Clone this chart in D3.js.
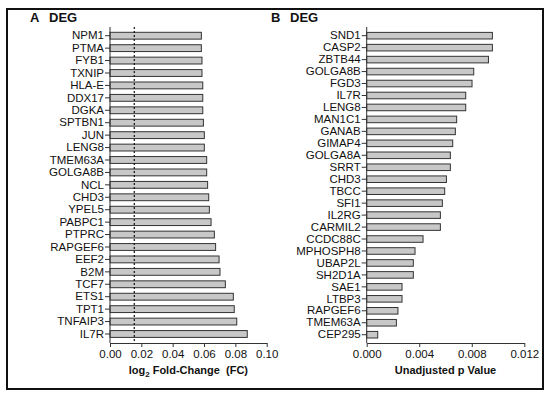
<!DOCTYPE html>
<html lang="en">
<head>
  <meta charset="utf-8">
  <title>DEG bar charts</title>
  <script src="https://d3js.org/d3.v7.min.js"></script>
  <style>
    body { margin: 0; background: #fff; }
    svg { font-family: "Liberation Sans", Arial, sans-serif; }
    .bar { fill: #c8c8c8; stroke: #333; stroke-width: 1px; }
    .axis text { font-size: 11.5px; fill: #111; }
    .axis line, .axis path { stroke: #333; }
    .title { font-size: 11px; font-weight: bold; fill: #111; }
    .panel { font-size: 13px; font-weight: bold; fill: #111; }
  </style>
</head>
<body>
  <div id="chart"></div>
  <script>
    // panel A: log2 fold change
    var genesA = ["NPM1","PTMA","FYB1","TXNIP","HLA-E","DDX17","DGKA","SPTBN1","JUN","LENG8",
                  "TMEM63A","GOLGA8B","NCL","CHD3","YPEL5","PABPC1","PTPRC","RAPGEF6","EEF2","B2M",
                  "TCF7","ETS1","TPT1","TNFAIP3","IL7R"];
    var fcA = [0.0583,0.0583,0.0587,0.0587,0.0592,0.0592,0.0592,0.0596,0.0602,0.0602,
               0.0617,0.0617,0.0623,0.0630,0.0634,0.0645,0.0666,0.0674,0.0696,0.0702,
               0.0736,0.0787,0.0793,0.0809,0.0876];
    var ticksA = [0, 0.02, 0.04, 0.06, 0.08, 0.10];
    var cutoffA = 0.0155;

    // panel B: unadjusted p value
    var genesB = ["SND1","CASP2","ZBTB44","GOLGA8B","FGD3","IL7R","LENG8","MAN1C1","GANAB","GIMAP4",
                  "GOLGA8A","SRRT","CHD3","TBCC","SFI1","IL2RG","CARMIL2","CCDC88C","MPHOSPH8","UBAP2L",
                  "SH2D1A","SAE1","LTBP3","RAPGEF6","TMEM63A","CEP295"];
    var pB = [0.00957,0.00957,0.00927,0.00815,0.00802,0.00754,0.00754,0.00685,0.00675,0.00655,
              0.00637,0.00637,0.00607,0.00594,0.00576,0.00561,0.00561,0.00429,0.00368,0.00355,
              0.00355,0.00269,0.00269,0.00238,0.00226,0.00084];
    var ticksB = [0, 0.004, 0.008, 0.012];

    var width = 550, height = 395;

    var svg = d3.select("#chart").append("svg")
      .attr("width", width)
      .attr("height", height);

    // outer frame
    svg.append("rect")
      .attr("x", 7).attr("y", 9)
      .attr("width", 536).attr("height", 380)
      .attr("fill", "none")
      .attr("stroke", "#111")
      .attr("stroke-width", 2);

    function panel(opts) {
      var x = d3.scaleLinear().domain(opts.domain).range(opts.xr);
      var y = d3.scaleBand().domain(opts.genes).range(opts.yr)
        .paddingInner(0.45).paddingOuter(0.225);
      var g = svg.append("g");
      var axisY = 343;

      g.selectAll("rect.bar")
        .data(opts.values)
        .enter().append("rect")
        .attr("class", "bar")
        .attr("x", x(0))
        .attr("y", (d, i) => y(opts.genes[i]))
        .attr("width", d => x(d) - x(0))
        .attr("height", y.bandwidth());

      if (opts.cutoff != null) {
        g.append("line")
          .attr("x1", x(opts.cutoff)).attr("x2", x(opts.cutoff))
          .attr("y1", 27).attr("y2", axisY)
          .attr("stroke", "#111")
          .attr("stroke-width", 1.2)
          .attr("stroke-dasharray", "2,2");
      }

      // y axis
      var ya = g.append("g")
        .attr("class", "axis")
        .attr("transform", `translate(${x(0)},0)`)
        .call(d3.axisLeft(y).tickSize(5).tickPadding(1));
      ya.select(".domain").remove();
      g.append("line")
        .attr("x1", x(0)).attr("x2", x(0))
        .attr("y1", 27).attr("y2", axisY)
        .attr("stroke", "#333");

      // x axis
      g.append("g")
        .attr("class", "axis")
        .attr("transform", `translate(0,${axisY})`)
        .call(d3.axisBottom(x).tickValues(opts.ticks).tickFormat(d3.format(opts.fmt))
          .tickSize(4).tickSizeOuter(0).tickPadding(3));

      var t = g.append("text")
        .attr("class", "title")
        .attr("x", (opts.xr[0] + opts.xr[1]) / 2)
        .attr("y", 374)
        .attr("text-anchor", "middle");
      opts.title(t);

      svg.append("text").attr("class", "panel")
        .attr("x", opts.lx).attr("y", 22).text(opts.letter);
      svg.append("text").attr("class", "panel")
        .attr("x", opts.lx + 19).attr("y", 22).text("DEG");
    }

    panel({
      genes: genesA, values: fcA, domain: [0, 0.1], xr: [110, 266.7],
      yr: [29.5, 340.2], ticks: ticksA, fmt: ".2f", cutoff: cutoffA,
      letter: "A", lx: 30,
      title: t => {
        t.append("tspan").text("log");
        t.append("tspan").attr("font-size", "8px").attr("dy", 3).text("2");
        t.append("tspan").attr("dy", -3).text(" Fold-Change \u00a0(FC)");
      }
    });

    panel({
      genes: genesB, values: pB, domain: [0, 0.012], xr: [366.7, 524.3],
      yr: [29.7, 340.7], ticks: ticksB, fmt: ".3f", cutoff: null,
      letter: "B", lx: 271,
      title: t => t.text("Unadjusted p Value")
    });
  </script>
</body>
</html>
